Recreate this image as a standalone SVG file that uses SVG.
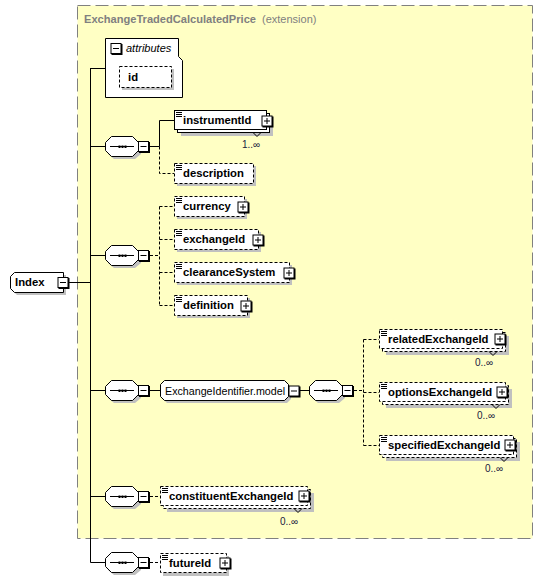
<svg xmlns="http://www.w3.org/2000/svg" width="543" height="582" viewBox="0 0 543 582">
<defs>
<style>
.bg{fill:#FFFFC4;stroke:#808080;stroke-width:1;stroke-dasharray:13,5}
.ttl{font-family:"Liberation Sans",Arial,sans-serif;font-size:11px;fill:#808080}
.nm{font-family:"Liberation Sans",Arial,sans-serif;font-size:11.3px;font-weight:bold;fill:#000}
.rg{font-family:"Liberation Sans",Arial,sans-serif;font-size:10.7px;fill:#000}
.it{font-family:"Liberation Sans",Arial,sans-serif;font-size:11px;font-style:italic;fill:#000}
.mu{font-family:"Liberation Sans",Arial,sans-serif;font-size:10px;fill:#202040}
.sh{fill:#C0C0C0;stroke:none}
.bx{fill:#fff;stroke:#000;stroke-width:1}
.bxd{fill:#fff;stroke:#000;stroke-width:1;stroke-dasharray:3,2}
.ln{fill:none;stroke:#000;stroke-width:1}
.lnd{fill:none;stroke:#000;stroke-width:1;stroke-dasharray:3,2}
</style>
<g id="seqsym">
<polygon class="sh" points="9,3 30,3 36,9 36,18 30,23 9,23 3,18 3,9"/>
<polygon class="bx" points="6.5,0.5 27.5,0.5 33.5,6.5 33.5,14.5 27.5,20.5 6.5,20.5 0.5,14.5 0.5,6.5"/>
<line class="ln" x1="5" y1="10.5" x2="29" y2="10.5"/>
<rect x="13.5" y="9.5" width="2" height="2.5" fill="#000"/>
<rect x="16.5" y="9.5" width="2" height="2.5" fill="#000"/>
<rect x="19.5" y="9.5" width="2" height="2.5" fill="#000"/>
<rect x="34" y="6" width="11" height="11" fill="#000"/>
<rect x="33.5" y="5.5" width="10" height="10" fill="#fff" stroke="#000"/>
<line class="ln" x1="35.5" y1="10.5" x2="41.5" y2="10.5"/>
</g>
<g id="plus">
<rect x="1" y="1" width="11" height="11" fill="#000"/>
<rect x="0.5" y="0.5" width="10" height="10" fill="#fff" stroke="#000"/>
<line class="ln" x1="2.5" y1="5.5" x2="8.5" y2="5.5"/>
<line class="ln" x1="5.5" y1="2.5" x2="5.5" y2="8.5"/>
</g>
<g id="minus">
<rect x="1" y="1" width="11" height="11" fill="#000"/>
<rect x="0.5" y="0.5" width="10" height="10" fill="#fff" stroke="#000"/>
<line class="ln" x1="2.5" y1="5.5" x2="8.5" y2="5.5"/>
</g>
<g id="ico">
<line class="ln" x1="2" y1="2.5" x2="8" y2="2.5"/>
<line class="ln" x1="2" y1="4.5" x2="8" y2="4.5"/>
<line class="ln" x1="2" y1="6.5" x2="8" y2="6.5"/>
</g>
</defs>
<rect width="543" height="582" fill="#fff"/>
<g id="ext">
<rect class="bg" x="77.5" y="5.5" width="455" height="533"/>
<text class="ttl" x="84" y="23" font-weight="bold" textLength="172" lengthAdjust="spacingAndGlyphs">ExchangeTradedCalculatedPrice</text>
<text class="ttl" x="262" y="23">(extension)</text>
</g>
<g id="connectors">
<line class="ln" x1="90.5" y1="68" x2="90.5" y2="562.5"/>
<line class="ln" x1="68" y1="282.5" x2="90.5" y2="282.5"/>
<line class="ln" x1="90.5" y1="68.5" x2="105" y2="68.5"/>
<line class="ln" x1="90.5" y1="146.5" x2="105" y2="146.5"/>
<line class="ln" x1="90.5" y1="255.5" x2="105" y2="255.5"/>
<line class="ln" x1="90.5" y1="390.5" x2="105" y2="390.5"/>
<line class="ln" x1="90.5" y1="496.5" x2="105" y2="496.5"/>
<line class="ln" x1="90.5" y1="562.5" x2="105" y2="562.5"/>
<line class="ln" x1="150" y1="146.5" x2="159.5" y2="146.5"/>
<polyline class="ln" points="159.5,146.5 159.5,120.5 174,120.5"/>
<polyline class="lnd" points="159.5,146.5 159.5,173.5 174,173.5"/>
<line class="lnd" x1="150" y1="255.5" x2="159.5" y2="255.5"/>
<line class="lnd" x1="159.5" y1="206.5" x2="159.5" y2="305.5"/>
<line class="lnd" x1="159.5" y1="206.5" x2="174" y2="206.5"/>
<line class="lnd" x1="159.5" y1="239.5" x2="174" y2="239.5"/>
<line class="lnd" x1="159.5" y1="272.5" x2="174" y2="272.5"/>
<line class="lnd" x1="159.5" y1="305.5" x2="174" y2="305.5"/>
<line class="ln" x1="150" y1="390.5" x2="160" y2="390.5"/>
<line class="ln" x1="299" y1="390.5" x2="309" y2="390.5"/>
<line class="lnd" x1="354" y1="390.5" x2="363.5" y2="390.5"/>
<line class="lnd" x1="363.5" y1="339.5" x2="363.5" y2="445.5"/>
<line class="lnd" x1="363.5" y1="339.5" x2="379" y2="339.5"/>
<line class="lnd" x1="363.5" y1="392.5" x2="379" y2="392.5"/>
<line class="lnd" x1="363.5" y1="445.5" x2="379" y2="445.5"/>
<line class="lnd" x1="150" y1="496.5" x2="160" y2="496.5"/>
<line class="lnd" x1="150" y1="562.5" x2="160" y2="562.5"/>
</g>
<g id="Index">
<polygon class="sh" points="17,275 66,275 66,295 17,295 13,291 13,279"/>
<polygon class="bx" points="14.5,272.5 63.5,272.5 63.5,292.5 14.5,292.5 10.5,288.5 10.5,276.5"/>
<text class="nm" x="15" y="286">Index</text>
<use href="#minus" x="57.5" y="277"/>
</g>
<g id="attributes">
<path class="bx" d="M105.5,38.5 H178.5 V56.5 L182.5,60.5 V97.5 H105.5 Z"/>
<use href="#minus" x="110.5" y="43"/>
<text class="it" x="126" y="52">attributes</text>
<rect class="sh" x="122" y="69" width="52" height="21"/>
<rect class="bxd" x="119.5" y="66.5" width="52" height="21"/>
<text class="nm" x="128" y="81">id</text>
</g>
<g id="seq1"><use href="#seqsym" x="105" y="136"/></g>
<g id="instrumentId">
<rect class="sh" x="181" y="117" width="92" height="19"/>
<rect class="bx" x="177.5" y="113.5" width="92" height="19"/>
<rect class="bx" x="174.5" y="110.5" width="92" height="19"/>
<use href="#ico" x="174" y="110"/>
<text class="nm" x="183" y="124">instrumentId</text>
<use href="#plus" x="261.5" y="115.5"/>
<polyline class="ln" points="253,132.5 257,136.5 261,132.5"/>
<text class="mu" x="242" y="148">1..∞</text>
</g>
<g id="description">
<rect class="sh" x="177" y="166" width="79" height="20"/>
<rect class="bxd" x="174.5" y="163.5" width="79" height="20"/>
<use href="#ico" x="174" y="163"/>
<text class="nm" x="183" y="177">description</text>
</g>
<g id="seq2"><use href="#seqsym" x="105" y="245"/></g>
<g id="currency">
<rect class="sh" x="177" y="199" width="70" height="20"/>
<rect class="bxd" x="174.5" y="196.5" width="70" height="20"/>
<use href="#ico" x="174" y="196"/>
<text class="nm" x="183" y="210">currency</text>
<use href="#plus" x="237.5" y="201.5"/>
</g>
<g id="exchangeId">
<rect class="sh" x="177" y="232" width="84" height="20"/>
<rect class="bxd" x="174.5" y="229.5" width="84" height="20"/>
<use href="#ico" x="174" y="229"/>
<text class="nm" x="183" y="243">exchangeId</text>
<use href="#plus" x="252.5" y="234.5"/>
</g>
<g id="clearanceSystem">
<rect class="sh" x="177" y="265" width="115" height="20"/>
<rect class="bxd" x="174.5" y="262.5" width="115" height="20"/>
<use href="#ico" x="174" y="262"/>
<text class="nm" x="183" y="276">clearanceSystem</text>
<use href="#plus" x="283.5" y="267.5"/>
</g>
<g id="definition">
<rect class="sh" x="177" y="298" width="73" height="20"/>
<rect class="bxd" x="174.5" y="295.5" width="73" height="20"/>
<use href="#ico" x="174" y="295"/>
<text class="nm" x="183" y="309">definition</text>
<use href="#plus" x="240.5" y="300.5"/>
</g>
<g id="seq3"><use href="#seqsym" x="105" y="380"/></g>
<g id="ExchangeIdentifierModel">
<polygon class="sh" points="167,383 287,383 291,387 291,399 287,403 167,403 163,399 163,387"/>
<polygon class="bx" points="164.5,380.5 284.5,380.5 288.5,384.5 288.5,396.5 284.5,400.5 164.5,400.5 160.5,396.5 160.5,384.5"/>
<text class="rg" x="165" y="394.5">ExchangeIdentifier.model</text>
<use href="#minus" x="288.5" y="385.5"/>
</g>
<g id="seq4"><use href="#seqsym" x="309" y="380"/></g>
<g id="relatedExchangeId">
<rect class="sh" x="386" y="336" width="123" height="19"/>
<rect class="bxd" x="382.5" y="332.5" width="123" height="19"/>
<rect class="bxd" x="379.5" y="329.5" width="123" height="19"/>
<use href="#ico" x="379" y="329"/>
<text class="nm" x="388" y="343">relatedExchangeId</text>
<use href="#plus" x="494.5" y="333.5"/>
<polyline class="ln" points="489,351.5 493,355.5 497,351.5"/>
<text class="mu" x="475" y="366">0..∞</text>
</g>
<g id="optionsExchangeId">
<rect class="sh" x="386" y="389" width="126" height="19"/>
<rect class="bxd" x="382.5" y="385.5" width="126" height="19"/>
<rect class="bxd" x="379.5" y="382.5" width="126" height="19"/>
<use href="#ico" x="379" y="382"/>
<text class="nm" x="388" y="396">optionsExchangeId</text>
<use href="#plus" x="496.5" y="386.5"/>
<polyline class="ln" points="492,404.5 496,408.5 500,404.5"/>
<text class="mu" x="477" y="419">0..∞</text>
</g>
<g id="specifiedExchangeId">
<rect class="sh" x="386" y="442" width="134" height="19"/>
<rect class="bxd" x="382.5" y="438.5" width="134" height="19"/>
<rect class="bxd" x="379.5" y="435.5" width="134" height="19"/>
<use href="#ico" x="379" y="435"/>
<text class="nm" x="388" y="449">specifiedExchangeId</text>
<use href="#plus" x="504.5" y="439.5"/>
<polyline class="ln" points="500,457.5 504,461.5 508,457.5"/>
<text class="mu" x="485" y="472">0..∞</text>
</g>
<g id="seq5"><use href="#seqsym" x="105" y="486"/></g>
<g id="constituentExchangeId">
<rect class="sh" x="167" y="493" width="147" height="19"/>
<rect class="bxd" x="163.5" y="489.5" width="147" height="19"/>
<rect class="bxd" x="160.5" y="486.5" width="147" height="19"/>
<use href="#ico" x="160" y="486"/>
<text class="nm" x="169" y="500">constituentExchangeId</text>
<use href="#plus" x="298.5" y="490.5"/>
<polyline class="ln" points="294,508.5 298,512.5 302,508.5"/>
<text class="mu" x="280" y="525">0..∞</text>
</g>
<g id="seq6"><use href="#seqsym" x="105" y="552"/></g>
<g id="futureId">
<rect class="sh" x="163" y="556" width="66" height="20"/>
<rect class="bxd" x="160.5" y="553.5" width="66" height="19"/>
<use href="#ico" x="160" y="553"/>
<text class="nm" x="169" y="567">futureId</text>
<use href="#plus" x="219.5" y="557.5"/>
</g>
</svg>
